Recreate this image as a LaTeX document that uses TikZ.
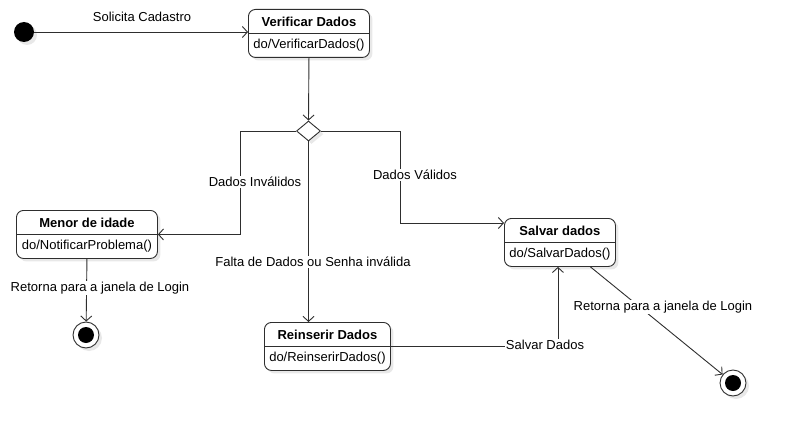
\documentclass[tikz,border=0pt]{standalone}
\usepackage{fontspec}
\setmainfont{Liberation Sans}
\usetikzlibrary{arrows.meta,shapes.geometric,shadows}
\newcommand{\umlstate}[6]{%
  \node[stbox, minimum width=#4pt, minimum height=48pt] (#1) at (#2,#3) {};
  \draw[divline] ([yshift=-24.5pt]#1.north west) -- ([yshift=-24.5pt]#1.north east);
  \node[ttl] at ([yshift=-12.5pt]#1.north) {#5};
  \node[bdy] at ([yshift=-36.5pt]#1.north) {#6};
}
\tikzset{
  ln/.style={draw=black!82, line width=0.9pt},
  stbox/.style={ln, rounded corners=7pt, fill=white, anchor=north west, inner sep=0pt,
    drop shadow={opacity=0.18, shadow xshift=3pt, shadow yshift=-3pt}},
  divline/.style={ln},
  ttl/.style={font=\fontsize{13}{15}\selectfont\bfseries, inner sep=0pt},
  bdy/.style={font=\fontsize{13}{15}\selectfont, inner sep=0pt},
  tr/.style={ln, -{Straight Barb[length=5pt,width=11pt,line width=0.9pt]}},
  lbl/.style={font=\fontsize{13}{15}\selectfont, fill=white, inner sep=1.2pt},
  initst/.style={circle, fill=black, minimum size=20pt, inner sep=0pt,
    drop shadow={opacity=0.18, shadow xshift=3pt, shadow yshift=-3pt}},
  finst/.style={circle, ln, fill=white, minimum size=26pt, inner sep=0pt,
    drop shadow={opacity=0.18, shadow xshift=3pt, shadow yshift=-3pt}},
  decis/.style={diamond, ln, fill=white, minimum width=24pt, minimum height=20pt, inner sep=0pt, aspect=1.2,
    drop shadow={opacity=0.18, shadow xshift=3pt, shadow yshift=-3pt}},
}
\begin{document}
\begin{tikzpicture}[x=1pt, y=-1pt]
\useasboundingbox (0,0) rectangle (792,436);

\node[initst] (start) at (24,32) {};
\umlstate{ver}{248}{9}{121}{Verificar Dados}{do/VerificarDados()}
\umlstate{menor}{16}{210}{141}{Menor de idade}{do/NotificarProblema()}
\umlstate{reins}{264}{322}{126}{Reinserir Dados}{do/ReinserirDados()}
\umlstate{salv}{504}{218}{111}{Salvar dados}{do/SalvarDados()}
\node[decis] (dec) at (308.5,131) {};
\node[finst] (end1) at (86,335) {};
\fill[black] (end1.center) circle (8pt);
\node[finst] (end2) at (733,383) {};
\fill[black] (end2.center) circle (8pt);

\coordinate (cl) at (240,0);
\coordinate (cr) at (400,0);
\coordinate (sin) at ([yshift=-5pt]salv.north west);

\draw[tr] (start) -- (start -| ver.west);
\node[lbl, fill=none] at (142,17) {Solicita Cadastro};
\draw[tr] (ver.south) -- (dec.north);
\draw[tr] (dec.west) -| (cl |- menor.east) -- (menor.east);
\node[lbl] at (255,182) {Dados Inválidos};
\draw[tr] (dec.east) -| (cr |- sin) -- (sin);
\node[lbl] at (415,175) {Dados Válidos};
\draw[tr] (dec.south) -- (dec.south |- reins.north);
\node[lbl] at (313,262) {Falta de Dados ou Senha inválida};
\draw[tr] (reins.east) -| ([xshift=-2pt]salv.south);
\node[lbl] at (545,345) {Salvar Dados};
\draw[tr] (menor.south) -- (end1);
\node[lbl] at (100,288) {Retorna para a janela de Login};
\draw[tr] ([xshift=30.5pt]salv.south) -- (end2);
\node[lbl] at (663,307) {Retorna para a janela de Login};
\end{tikzpicture}
\end{document}
